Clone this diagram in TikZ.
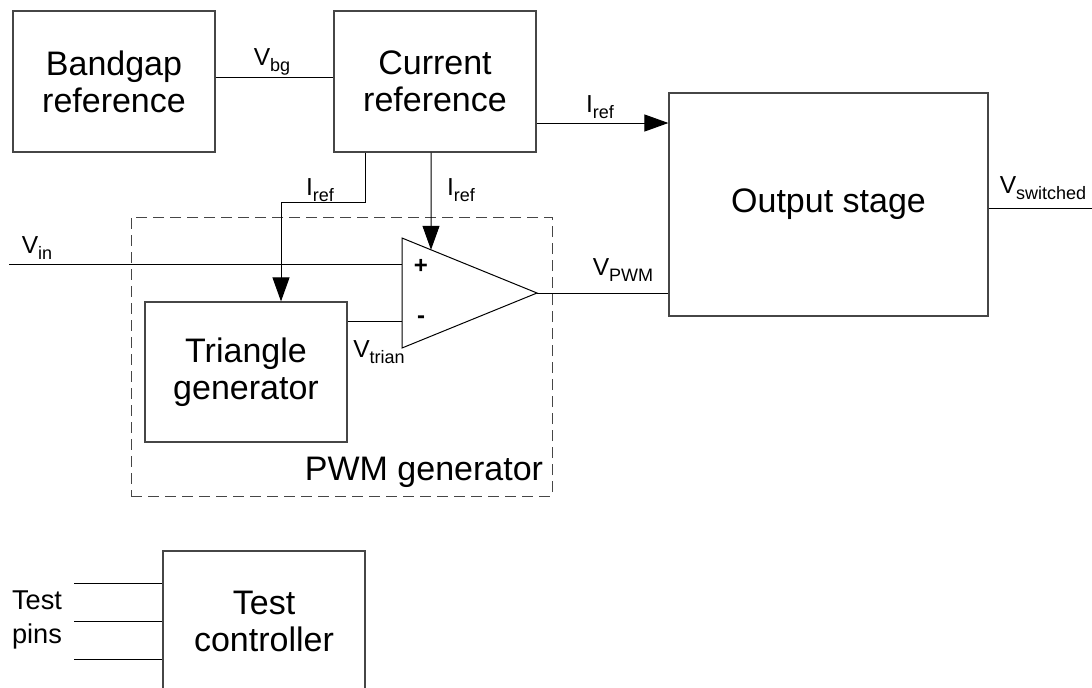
\documentclass[tikz,border=0pt]{standalone}
\usepackage{fontspec}
\setmainfont{Liberation Sans}
\usepackage{tikz}
\usetikzlibrary{arrows.meta, positioning, calc}
\definecolor{boxgray}{RGB}{70, 70, 70}

\newcommand{\sigsub}[2]{#1\raisebox{-3pt}{\fontsize{9}{9}\selectfont #2}}

\tikzset{
    blockfont/.style={font=\fontsize{17}{18.5}\selectfont},
    block/.style={draw=boxgray, line width=0.6pt, inner sep=0pt, align=center, blockfont},
    wire/.style={draw=black, line width=0.5pt},
    arr/.style={wire, -{Triangle[length=12pt, width=8.5pt]}},
    lbl/.style={inner sep=0pt, font=\fontsize{12.3}{14}\selectfont},
    pwmbox/.style={draw=boxgray, line width=0.5pt, dash pattern=on 5.5pt off 3pt, inner sep=0pt}
}

\begin{document}
\begin{tikzpicture}[x=0.5pt, y=-0.5pt]
    % Page frame
    \clip (0,0) rectangle (1092,687);

    % Blocks
    \node[block, minimum width=101pt, minimum height=70.5pt] (bandgap) at (114,81.5) {Bandgap\\reference};
    \node[block, minimum width=101pt, minimum height=70.5pt] (curref) at (435,81.5) {Current\\reference};
    \node[block, minimum width=159.5pt, minimum height=111.5pt] (outstage) at (828.5,204.5) {Output stage};
    \node[pwmbox, minimum width=210.5pt, minimum height=139.5pt] (pwmgen) at (341.5,356.5) {};
    \node[block, minimum width=101pt, minimum height=70pt] (trigen) at (246,372) {Triangle\\generator};
    \node[block, minimum width=101pt, minimum height=70pt] (testctl) at (264,621) {Test\\controller};
    \node[blockfont, inner sep=0pt] (pwmlbl) at (424,472) {PWM generator};

    % Comparator
    \draw[wire] (402,238) coordinate (optl) -- (537,293) coordinate (opout)
        -- (402,348) coordinate (opbl) -- cycle;
    \node[lbl, font=\fontsize{12}{12}\selectfont\bfseries] (opplus) at (421,266) {+};
    \node[lbl, font=\fontsize{12}{12}\selectfont\bfseries] (opminus) at (421,320) {-};

    % Connections
    \draw[wire] ([yshift=2.25pt]bandgap.east) -- ([yshift=2.25pt]curref.west);
    \draw[arr] (curref.east |- 0,123) -- (outstage.west |- 0,123);
    \draw[arr] (curref.south -| 365,0) -- (365,202) -| (trigen.north -| 281,0);
    \draw[arr] (curref.south -| 431,0) -- ($(optl)!29/135!(opout)$);
    \coordinate (vin) at (9,264);
    \draw[wire] (vin) -- (vin -| optl);
    \draw[wire] (trigen.east |- 0,321) -- (optl |- 0,321);
    \draw[wire] (opout) -- (outstage.west |- opout);
    \coordinate (vsw) at (1092,208);
    \draw[wire] (outstage.east |- vsw) -- (vsw);
    \foreach \y in {583,621,659}
        \draw[wire] (74,\y) -- (testctl.west |- 0,\y);

    % Signal labels
    \node[lbl] (vbglbl) at (272,62) {\sigsub{V}{bg}};
    \node[lbl] (iref1) at (320,190) {\sigsub{I}{ref}};
    \node[lbl] (iref2) at (461,190) {\sigsub{I}{ref}};
    \node[lbl] (iref3) at (600,107) {\sigsub{I}{ref}};
    \node[lbl] (vinlbl) at (37,248) {\sigsub{V}{in}};
    \node[lbl] (vtrlbl) at (379,352) {\sigsub{V}{trian}};
    \node[lbl] (vpwmlbl) at (623,270) {\sigsub{V}{PWM}};
    \node[lbl] (vswlbl) at (1043,188) {\sigsub{V}{switched}};
    \node[lbl, align=center, font=\fontsize{13.6}{17}\selectfont] (pinlbl) at (37,620) {Test\\pins};

\end{tikzpicture}
\end{document}
